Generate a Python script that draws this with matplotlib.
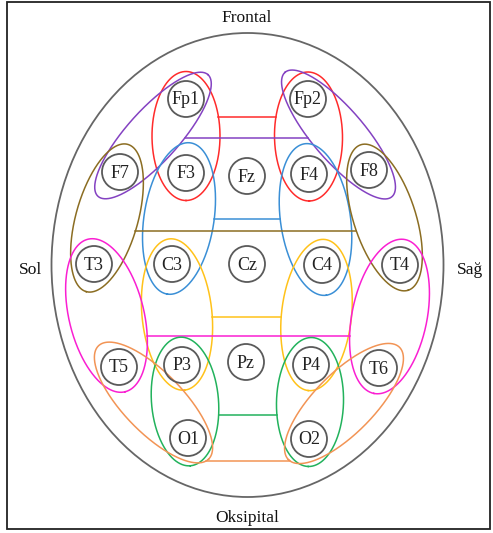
import matplotlib.pyplot as plt
import numpy as np
from matplotlib.patches import Circle, Ellipse, Rectangle

# electrode names and positions (pixel coords of the reference, y down)
names = ['Fp1', 'Fp2',
         'F7', 'F3', 'Fz', 'F4', 'F8',
         'T3', 'C3', 'Cz', 'C4', 'T4',
         'T5', 'P3', 'Pz', 'P4', 'T6',
         'O1', 'O2']
xs = [186, 308,
      120, 186, 247, 309, 369,
      94, 172, 247, 322, 400,
      119, 182, 246, 311, 379,
      188, 309]
ys = [99, 99,
      172, 173, 176, 174, 170,
      264, 264, 264, 265, 265,
      367, 365, 362, 365, 368,
      438, 439]

# electrode pairs grouped together (left hemisphere, right hemisphere)
left_pairs = [('Fp1', 'F3'), ('F7', 'Fp1'), ('F3', 'C3'), ('F7', 'T3'),
              ('C3', 'P3'), ('T3', 'T5'), ('P3', 'O1'), ('T5', 'O1')]
right_pairs = [('Fp2', 'F4'), ('F8', 'Fp2'), ('F4', 'C4'), ('F8', 'T4'),
               ('C4', 'P4'), ('T4', 'T6'), ('P4', 'O2'), ('T6', 'O2')]
link_y = [117, 138, 219, 231, 317, 336, 415, 461]

# styles per group
colors = ['#ff2b2b', '#8442c2', '#3a8fd6', '#8b6d22',
          '#ffc21a', '#fa1fd2', '#22b25c', '#f29455']
major = [129, 164, 153, 153, 152, 157, 129, 158]
minor = [68, 52, 70, 62, 70, 75, 67, 60]

pos = {n: (x, y) for n, x, y in zip(names, xs, ys)}

fs = 12.5
plt.rcParams['font.family'] = ['Liberation Serif', 'DejaVu Serif']

fig = plt.figure(figsize=(4.93, 5.33), dpi=100)
ax = fig.add_axes([0, 0, 1, 1])
ax.set_xlim(0, 493)
ax.set_ylim(533, 0)
ax.axis('off')

# frame and head outline
ax.add_patch(Rectangle((7, 2), 483, 527, fill=False, ec='#222222', lw=1.3))
ax.add_patch(Ellipse((247.5, 265), 392, 464, fill=False, ec='#666666', lw=1.3))


def ellipse_pts(p1, p2, L, W):
    (x1, y1), (x2, y2) = pos[p1], pos[p2]
    c = np.array([(x1 + x2) / 2, (y1 + y2) / 2])
    u = np.array([x2 - x1, y2 - y1], dtype=float)
    u /= np.hypot(*u)
    v = np.array([-u[1], u[0]])
    t = np.linspace(0, 2 * np.pi, 721)
    pts = c[:, None] + (L / 2) * np.cos(t) * u[:, None] + (W / 2) * np.sin(t) * v[:, None]
    return pts[0], pts[1]


def crossing(px, py, y0, side):
    xs_hit = []
    for i in range(len(px) - 1):
        if (py[i] - y0) * (py[i + 1] - y0) <= 0 and py[i] != py[i + 1]:
            f = (y0 - py[i]) / (py[i + 1] - py[i])
            xs_hit.append(px[i] + f * (px[i + 1] - px[i]))
    return max(xs_hit) if side == 'left' else min(xs_hit)


for k in range(len(colors)):
    lx, ly = ellipse_pts(*left_pairs[k], major[k], minor[k])
    rx, ry = ellipse_pts(*right_pairs[k], major[k], minor[k])
    ax.plot(lx, ly, color=colors[k], lw=1.1)
    ax.plot(rx, ry, color=colors[k], lw=1.1)
    x0 = crossing(lx, ly, link_y[k], 'left')
    x1 = crossing(rx, ry, link_y[k], 'right')
    ax.plot([x0, x1], [link_y[k], link_y[k]], color=colors[k], lw=1.1)

# electrodes
for n, x, y in zip(names, xs, ys):
    ax.add_patch(Circle((x, y), 18, fill=False, ec='#5a5a5a', lw=1.3, zorder=3))
    ax.text(x, y + 1, n, ha='center', va='center', fontsize=13, color='#222222', zorder=4)

ax.text(247, 18, 'Frontal', ha='center', va='center', fontsize=fs, color='#111111')
ax.text(247, 518, 'Oksipital', ha='center', va='center', fontsize=fs, color='#111111')
ax.text(30, 270, 'Sol', ha='center', va='center', fontsize=fs, color='#111111')
ax.text(470, 270, 'Sağ', ha='center', va='center', fontsize=fs, color='#111111')

plt.savefig('out.png', dpi=100)
